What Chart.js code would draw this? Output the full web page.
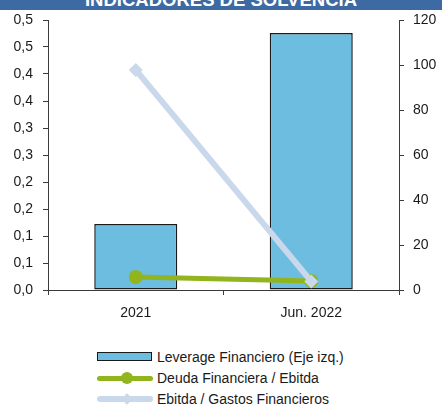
<!DOCTYPE html>
<html>
<head>
<meta charset="utf-8">
<script src="https://cdn.jsdelivr.net/npm/chart.js@4/dist/chart.umd.min.js"></script>
<style>
  html, body { margin: 0; padding: 0; background: #fff; }
  body { width: 442px; height: 407px; position: relative; overflow: hidden; font-family: "Liberation Sans", Arial, sans-serif; }
  #hdr { position: absolute; left: 0; top: 0; width: 442px; height: 10px; background: #3d6aa2; overflow: hidden; }
  #hdr span { position: absolute; left: 0; width: 442px; text-align: center; top: -9px; font-size: 18.5px; line-height: 17px; font-weight: bold; color: #fff; white-space: nowrap; }
  #wrap { position: absolute; left: 0; top: 0; width: 442px; height: 330px; }
  .lg { position: absolute; left: 0; width: 442px; height: 20px; }
  .lg .t { position: absolute; left: 157px; top: 0; font-size: 14px; line-height: 20px; color: #1a1a1a; white-space: nowrap; }
  .sym { position: absolute; }
</style>
</head>
<body>
<div id="wrap"><canvas id="c" width="442" height="330"></canvas></div>
<div id="hdr"><span>INDICADORES DE SOLVENCIA</span></div>
<div id="legend"></div>
<script>
const categories = ['2021', 'Jun. 2022'];
const leverage = [0.122, 0.476];
const deudaEbitda = [5.8, 4.0];
const ebitdaGastos = [97.8, 3.8];
const leftTickLabels = ['0,0','0,1','0,1','0,2','0,2','0,3','0,3','0,4','0,4','0,5','0,5'];
const seriesNames = ['Leverage Financiero (Eje izq.)', 'Deuda Financiera / Ebitda', 'Ebitda / Gastos Financieros'];

const BAR = '#6cbde0', GREEN = '#92b41c', LBLUE = '#c9d8ea', AXIS = '#3a3a3a';

Chart.defaults.font.family = '"Liberation Sans", Arial, sans-serif';
Chart.defaults.font.size = 14;
Chart.defaults.color = '#1a1a1a';

new Chart(document.getElementById('c'), {
  data: {
    labels: categories,
    datasets: [
      { type: 'bar', label: seriesNames[0], data: leverage, yAxisID: 'yL', backgroundColor: BAR,
        borderColor: '#1a1a1a', borderWidth: 1.5, borderSkipped: false, categoryPercentage: 1, barPercentage: 0.473, order: 3 },
      { type: 'line', label: seriesNames[1], data: deudaEbitda, yAxisID: 'yR', borderColor: GREEN, backgroundColor: GREEN,
        borderWidth: 5, pointStyle: 'circle', pointRadius: 7, pointBorderWidth: 0, pointBackgroundColor: GREEN, order: 2, tension: 0 },
      { type: 'line', label: seriesNames[2], data: ebitdaGastos, yAxisID: 'yR', borderColor: LBLUE, backgroundColor: LBLUE,
        borderWidth: 6, pointStyle: 'rectRot', pointRadius: 7, pointBorderWidth: 0, pointBackgroundColor: LBLUE, order: 1, tension: 0 }
    ]
  },
  options: {
    responsive: false,
    animation: false,
    devicePixelRatio: 1,
    layout: { padding: { top: 20, left: 0, right: 0, bottom: 0 } },
    plugins: { legend: { display: false }, tooltip: { enabled: false } },
    scales: {
      x: {
        offset: true,
        grid: { offset: true, drawOnChartArea: false, drawTicks: true, tickLength: 5, color: AXIS },
        border: { display: true, color: AXIS, width: 1 },
        ticks: { padding: 10, maxRotation: 0 },
        afterFit: s => { s.height = 40; }
      },
      yL: {
        position: 'left', min: 0, max: 0.5,
        grid: { drawOnChartArea: false, drawTicks: true, tickLength: 5, color: AXIS },
        border: { display: true, color: AXIS, width: 1 },
        ticks: { stepSize: 0.05, padding: 10, autoSkip: false, callback: (v, i) => leftTickLabels[i] },
        afterFit: s => { s.width = 48; }
      },
      yR: {
        position: 'right', min: 0, max: 120,
        grid: { drawOnChartArea: false, drawTicks: true, tickLength: 5, color: AXIS },
        border: { display: true, color: AXIS, width: 1 },
        ticks: { stepSize: 20, padding: 9 },
        afterFit: s => { s.width = 43; }
      }
    }
  }
});

// Legend (HTML)
const lg = document.getElementById('legend');
const rowsY = [347, 368, 389];
const syms = [
  '<div class="sym" style="left:97px;top:5px;width:53px;height:7px;background:' + BAR + ';border:1.5px solid #1a1a1a;"></div>',
  '<div class="sym" style="left:97px;top:7.5px;width:56px;height:5px;border-radius:3px;background:' + GREEN + ';"></div>' +
  '<div class="sym" style="left:121px;top:4px;width:12px;height:12px;border-radius:6px;background:' + GREEN + ';"></div>',
  '<div class="sym" style="left:97px;top:7px;width:56px;height:6px;border-radius:3px;background:' + LBLUE + ';"></div>' +
  '<div class="sym" style="left:123px;top:6px;width:8px;height:8px;transform:rotate(45deg);background:' + LBLUE + ';"></div>'
];
seriesNames.forEach((n, i) => {
  const d = document.createElement('div');
  d.className = 'lg';
  d.style.top = rowsY[i] + 'px';
  d.innerHTML = syms[i] + '<span class="t"></span>';
  d.querySelector('.t').textContent = n;
  lg.appendChild(d);
});
</script>
</body>
</html>
